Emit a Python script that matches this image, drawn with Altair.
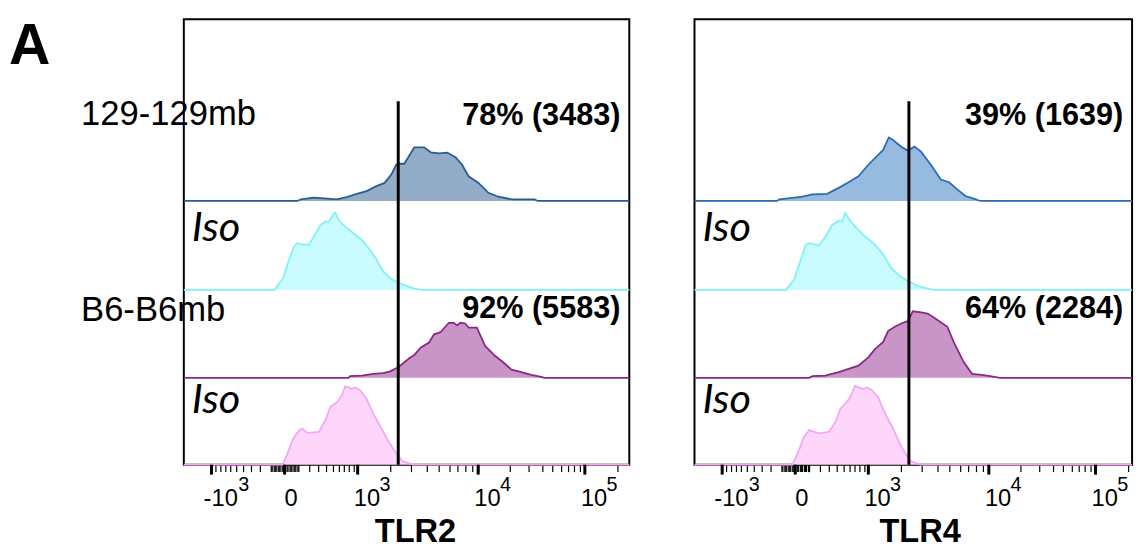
import altair as alt
import pandas as pd

# ---------------- data ----------------
ROW_LABELS = ["129-129mb", "Iso", "B6-B6mb", "Iso"]

# TLR2 panel: fluorescence value (x) and histogram height (y units)
TLR2_129_X = [94, 122, 252, 372, 570, 754, 976, 1219, 1504, 1780, 2032, 2239, 2385, 2620, 3165, 3800,
              4294, 4980, 5790, 6701, 7540, 8450, 10070, 12510, 15510, 20680, 33970, 36450]
TLR2_129_H = [0, 1.7, 3.3, 2.7, 1.7, 4, 7.3, 10, 15, 18.3, 26.7, 36.7, 37.7, 37.7, 54.3, 54.3,
              49.3, 48.3, 49, 44.3, 36.7, 25, 18.3, 8.3, 4.3, 1.7, 1.7, 0]
TLR2_ISO129_X = [-72, -13, 31, 68, 94, 151, 199, 252, 329, 393, 441, 517, 542, 599, 721, 898, 1135,
                 1308, 1504, 1723, 1965, 2313, 2709, 3164, 3694]
TLR2_ISO129_H = [0, 10.7, 30.7, 44, 47.3, 45.7, 45.7, 54, 65.7, 69, 69, 77.3, 78.3, 70.7, 64, 57.3, 49,
                 40.7, 30.7, 19, 12.3, 7.3, 4, 1.3, 0]
TLR2_B6_X = [789, 823, 1093, 1405, 1723, 1965, 2239, 2464, 2882, 3164, 3580, 4165, 4557, 5138, 5954,
             6501, 6903, 7314, 7981, 8452, 9778, 11640, 14450, 17270, 20680, 25600, 31680, 39170, 42020]
TLR2_B6_H = [0, 1.7, 2.3, 4, 4.7, 6.3, 9.7, 13, 19.7, 23, 30.7, 35.7, 44, 46.3, 55.7,
             55.7, 53, 55.7, 55, 50.7, 50.7, 32.3, 22.3, 15.7, 8.3, 5.7, 3, 1, 0]
TLR2_ISOB6_X = [-13, 20, 55, 108, 136, 182, 309, 393, 464, 570, 658, 721, 789, 860, 935, 1053, 1219,
                1405, 1665, 1965, 2239, 2543, 3072]
TLR2_ISOB6_H = [0, 11.7, 25, 35, 36.7, 32.3, 33.3, 45, 58.3, 63.3, 70, 79.3, 78.3, 76.7, 78.3, 75.7, 66.7,
                51.7, 36.7, 21.7, 11.7, 3.3, 0]

# TLR4 panel
TLR4_129_X = [-140, -119, -6, 50, 130, 281, 431, 587, 775, 1000, 1245, 1384, 1558, 1700, 2004, 2282,
              2594, 2937, 3534, 4240, 4931, 5716, 6618, 7666, 8600]
TLR4_129_H = [0, 1.7, 3.3, 4.3, 6.7, 7.3, 13.3, 19, 25, 36.7, 46.7, 51.7, 64.3, 61.7, 55, 51,
              55, 50, 36.7, 21.7, 19, 11.7, 5, 2.3, 0]
TLR4_ISO129_X = [-65, -6, 38, 75, 116, 192, 263, 341, 431, 480, 533, 587, 709, 921, 1160, 1384, 1642,
                 1942, 2282, 2761, 3326, 3761]
TLR4_ISO129_H = [0, 10.7, 30.7, 45.7, 47.3, 44.7, 54, 65.7, 70, 69, 78, 72.3, 64, 54, 45.7, 35.7, 22.3,
                 14, 9, 4, 1.3, 0]
TLR4_B6_X = [102, 130, 263, 301, 431, 587, 775, 1000, 1160, 1384, 1535, 1758, 2072, 2282, 2512, 2937,
             3326, 3761, 4240, 4783, 5391, 6435, 7443, 8859, 10290, 12780]
TLR4_B6_H = [0, 1.7, 2.3, 3.3, 5.7, 9, 12.3, 20.7, 29, 36.3, 47.3, 51.7, 55.7, 57.3, 67.3, 66.3,
             65, 60.7, 56.3, 51.7, 35.7, 15.7, 4, 3, 1.7, 0]
TLR4_ISOB6_X = [-17, 26, 62, 102, 145, 192, 301, 385, 456, 533, 617, 709, 775, 882, 959, 1077, 1245,
                1434, 1700, 1942, 2209, 2431, 2937]
TLR4_ISOB6_H = [0, 15, 28.3, 35, 33.3, 31.7, 33.3, 43.3, 56.7, 61.7, 68.3, 80, 78.3, 76.7, 78.3, 75.7, 68.3,
                52.3, 36.7, 21.7, 10, 3.3, 0]

TLR2_PCT = ["78% (3483)", "92% (5583)"]
TLR4_PCT = ["39% (1639)", "64% (2284)"]
GATE = 2330

MAJOR_TICKS = [-1000, 0, 1000, 10000, 100000]
POS_TICKS = [1000, 10000, 100000]
POS_BASE = ["10", "10", "10"]
POS_EXP = ["3", "4", "5"]
NEG_TICKS = [-1000]
NEG_BASE = ["-10"]
NEG_EXP = ["3"]
ZERO_TICKS = [0]
ZERO_BASE = ["0"]
MINOR_TICKS = ([-v for v in range(100, 1000, 100)] + [-v for v in range(10, 100, 10)] +
               list(range(10, 100, 10)) + list(range(100, 1000, 100)) +
               list(range(2000, 10000, 1000)) + list(range(20000, 100000, 10000)) + [200000])

# ---------------- style / layout ----------------
H = 451
ROW_BASE = {"129": 267, "Iso129": 177, "B6": 88, "IsoB6": 0}
FILL = {"TLR2_129": "#93acc8", "TLR2_Iso129": "#cbfcfd", "TLR2_B6": "#c995c7", "TLR2_IsoB6": "#fed6fb",
        "TLR4_129": "#97badf", "TLR4_Iso129": "#cbfcfd", "TLR4_B6": "#c995c7", "TLR4_IsoB6": "#fed6fb"}
STROKE = {"TLR2_129": "#2a5b90", "TLR2_Iso129": "#7ff2f7", "TLR2_B6": "#8a2888", "TLR2_IsoB6": "#f7a6f2",
          "TLR4_129": "#2a6cb2", "TLR4_Iso129": "#7ff2f7", "TLR4_B6": "#8a2888", "TLR4_IsoB6": "#f7a6f2"}
KEYS = list(FILL.keys())
SANS = "Liberation Sans"


def build(panel, curves, xmin, xmax):
    rows = []
    for key, xs, hs in curves:
        for x, h in zip([xmin] + xs + [xmax], [0] + hs + [0]):
            rows.append({"series": f"{panel}_{key}", "x": x, "h": h, "base": ROW_BASE[key]})
    return pd.DataFrame(rows)


def text_layer(ticks, texts, size, dx, y, baseline):
    return alt.Chart(pd.DataFrame({"x": ticks, "t": texts})).mark_text(
        font=SANS, fontSize=size, align="left", baseline=baseline, dx=dx, color="black").encode(
        x="x:Q", y=alt.value(y), text="t:N")


def fixed_text(t, x, y, size, align="left", baseline="middle", weight="normal", style="normal", font=SANS):
    return alt.Chart(pd.DataFrame({"t": [t]})).mark_text(
        font=font, fontSize=size, fontWeight=weight, fontStyle=style, align=align,
        baseline=baseline, color="black").encode(x=alt.value(x), y=alt.value(y), text="t:N")


def panel(name, curves, width, xmax, pcts, title_x, row_labels):
    df = build(name, curves, -1900, xmax)
    xscale = alt.Scale(type="symlog", constant=350,
                       domain=[-1900, -1000, 0, 1000, 10000, 100000, xmax],
                       range=[0, 28, 102, 176, 298, 406, width], nice=False, zero=False)
    yscale = alt.Scale(domain=[0, H], nice=False, zero=False)
    ticks = MAJOR_TICKS + MINOR_TICKS
    axis = alt.Axis(values=ticks, tickCount=len(ticks) + 20, labels=False, grid=False, domain=False,
                    tickColor="black", tickSize=7, tickWidth=1.2,
                    title=name, titleFont=SANS, titleFontSize=33, titleFontWeight="bold",
                    titleColor="black", titleX=title_x, titleY=78, titleBaseline="alphabetic",
                    titleAlign="center")
    base = alt.Chart(df).transform_calculate(top="datum.base + datum.h")
    area = base.mark_area(opacity=1).encode(
        x=alt.X("x:Q", scale=xscale, axis=axis),
        y=alt.Y("top:Q", scale=yscale, axis=None, stack=None),
        y2="base:Q",
        fill=alt.Fill("series:N", scale=alt.Scale(domain=KEYS, range=[FILL[k] for k in KEYS]), legend=None),
        detail="series:N",
    )
    line = base.mark_line(strokeWidth=1.8).encode(
        x="x:Q",
        y=alt.Y("top:Q", stack=None),
        stroke=alt.Stroke("series:N", scale=alt.Scale(domain=KEYS, range=[STROKE[k] for k in KEYS]), legend=None),
        detail="series:N",
    )
    gate = alt.Chart(pd.DataFrame({"x": [GATE]})).mark_rule(color="black", strokeWidth=3).encode(
        x="x:Q", y=alt.value(83), y2=alt.value(H))
    major = alt.Chart(pd.DataFrame({"x": MAJOR_TICKS})).mark_rule(color="black", strokeWidth=3).encode(
        x="x:Q", y=alt.value(H), y2=alt.value(H + 10))
    layers = [area, line, gate, major,
              text_layer(POS_TICKS, POS_BASE, 24, -4, H + 23, "top"),
              text_layer(NEG_TICKS, NEG_BASE, 24, -8, H + 23, "top"),
              text_layer(ZERO_TICKS, ZERO_BASE, 24, 0, H + 23, "top"),
              text_layer(POS_TICKS, POS_EXP, 20, 22, H + 27, "alphabetic"),
              text_layer(NEG_TICKS, NEG_EXP, 20, 27, H + 27, "alphabetic"),
              fixed_text(pcts[0], width - 9, 98, 31, align="right", weight="bold"),
              fixed_text(pcts[1], width - 9, 293, 31, align="right", weight="bold"),
              fixed_text(ROW_LABELS[1], 8, 212, 42, style="italic", font="Lato"),
              fixed_text(ROW_LABELS[3], 8, 386, 42, style="italic", font="Lato")]
    if row_labels:
        layers += [fixed_text(ROW_LABELS[0], -104, 96, 35),
                   fixed_text(ROW_LABELS[2], -104, 294, 35),
                   fixed_text("A", -177, 45, 58, baseline="alphabetic", weight="bold")]
    return alt.layer(*layers).properties(width=width, height=H)


p1 = panel("TLR2", [("129", TLR2_129_X, TLR2_129_H), ("Iso129", TLR2_ISO129_X, TLR2_ISO129_H),
                    ("B6", TLR2_B6_X, TLR2_B6_H), ("IsoB6", TLR2_ISOB6_X, TLR2_ISOB6_H)],
           451, 261000, TLR2_PCT, 234, True)
p2 = panel("TLR4", [("129", TLR4_129_X, TLR4_129_H), ("Iso129", TLR4_ISO129_X, TLR4_ISO129_H),
                    ("B6", TLR4_B6_X, TLR4_B6_H), ("IsoB6", TLR4_ISOB6_X, TLR4_ISOB6_H)],
           443, 220000, TLR4_PCT, 228, False)

chart = alt.hconcat(p1, p2, spacing=56).properties(
    padding={"left": 0, "top": 6, "right": 0, "bottom": 0}
).configure_view(stroke="black", strokeWidth=2)

chart.save("out.html", embed_options={"renderer": "svg", "actions": False})
